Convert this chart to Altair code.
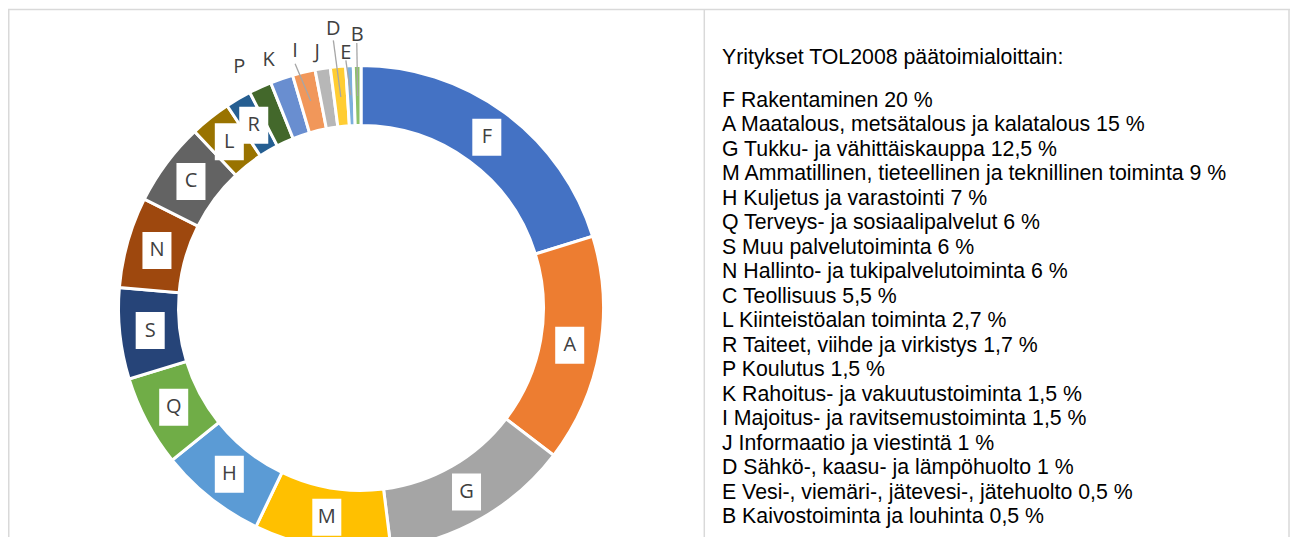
import altair as alt
import pandas as pd

# ---- data ----
codes = ["F", "A", "G", "M", "H", "Q", "S", "N", "C", "L", "R", "P", "K", "I", "J", "D", "E", "B"]
names = [
    "Rakentaminen",
    "Maatalous, metsätalous ja kalatalous",
    "Tukku- ja vähittäiskauppa",
    "Ammatillinen, tieteellinen ja teknillinen toiminta",
    "Kuljetus ja varastointi",
    "Terveys- ja sosiaalipalvelut",
    "Muu palvelutoiminta",
    "Hallinto- ja tukipalvelutoiminta",
    "Teollisuus",
    "Kiinteistöalan toiminta",
    "Taiteet, viihde ja virkistys",
    "Koulutus",
    "Rahoitus- ja vakuutustoiminta",
    "Majoitus- ja ravitsemustoiminta",
    "Informaatio ja viestintä",
    "Sähkö-, kaasu- ja lämpöhuolto",
    "Vesi-, viemäri-, jätevesi-, jätehuolto",
    "Kaivostoiminta ja louhinta",
]
values = [20, 15, 12.5, 9, 7, 6, 6, 6, 5.5, 2.7, 1.7, 1.5, 1.5, 1.5, 1, 1, 0.5, 0.5]
title = "Yritykset TOL2008 päätoimialoittain:"

palette = ["#4472C4", "#ED7D31", "#A5A5A5", "#FFC000", "#5B9BD5", "#70AD47",
           "#264478", "#9E480E", "#636363", "#997300", "#255E91", "#43682B",
           "#698ED0", "#F1975A", "#B7B7B7", "#FFCD33", "#7CAFDD", "#8CC168"]


def fmt(v):
    return f"{v:g}".replace(".", ",")


df = pd.DataFrame({
    "idx": list(range(len(codes))),
    "code": codes,
    "value": values,
    "label": [f"{c} {n} {fmt(v)} %" for c, n, v in zip(codes, names, values)],
})

# ---- layout ----
W, H = 1282, 529
CX, CY = 353, 300
R_OUT, R_IN = 241, 184
R_LAB = 212
LAB_FONT = "Open Sans"
LAB_COLOR = "#404040"
BOX = "M-0.784,-1H0.784V1H-0.784Z"

inner_codes = ["F", "A", "G", "M", "H", "Q", "S", "N", "C", "L", "R"]
# outer labels: angle offset (deg) from slice middle, radius
outer = {"P": (-2.2, 270), "K": (-1.3, 265), "I": (-0.75, 265), "J": (-0.6, 260),
         "D": (-0.25, 280), "E": (-0.67, 255), "B": (0.1, 273)}
# leader lines: start angle offset (deg), start radius, end radius
leaders = {"I": (-1.45, 253, 213), "D": (-0.44, 269, 212), "E": (-0.77, 248, 213), "B": (0.0, 265, 212)}

base = (
    alt.Chart(df)
    .transform_joinaggregate(total="sum(value)")
    .transform_window(cum="sum(value)", sort=[alt.SortField("idx", order="ascending")], frame=[None, 0])
    .transform_calculate(
        a0="(datum.cum - datum.value) / datum.total * 2 * PI",
        a1="datum.cum / datum.total * 2 * PI",
    )
    .transform_calculate(mid="(datum.a0 + datum.a1) / 2")
)

arcs = base.mark_arc(radius=R_OUT + 1.5, radius2=R_IN - 1.5, stroke="white", strokeWidth=3).encode(
    theta=alt.Theta("a0:Q", scale=None),
    theta2=alt.Theta2("a1:Q"),
    color=alt.Color("code:N", scale=alt.Scale(domain=codes, range=palette), legend=None),
    x=alt.value(CX),
    y=alt.value(CY),
)

inner_pos = base.transform_filter(alt.FieldOneOfPredicate(field="code", oneOf=inner_codes)).transform_calculate(
    px=f"{CX} + {R_LAB} * sin(datum.mid)",
    py=f"{CY} - {R_LAB} * cos(datum.mid)",
)

boxes = inner_pos.mark_point(shape=BOX, size=37 * 37, filled=True, color="white", opacity=1).encode(
    x=alt.X("px:Q", scale=None), y=alt.Y("py:Q", scale=None)
)
inner_text = inner_pos.mark_text(font=LAB_FONT, fontSize=20, color=LAB_COLOR, align="center", baseline="middle").encode(
    x=alt.X("px:Q", scale=None), y=alt.Y("py:Q", scale=None), text="code:N"
)

layers = [arcs, boxes, inner_text]

for code, (sa, sr, er) in leaders.items():
    lay = base.transform_filter(alt.datum.code == code).transform_calculate(
        x1=f"{CX} + {sr} * sin(datum.mid + {sa} * PI / 180)",
        y1=f"{CY} - {sr} * cos(datum.mid + {sa} * PI / 180)",
        x2=f"{CX} + {er} * sin(datum.mid)",
        y2=f"{CY} - {er} * cos(datum.mid)",
    ).mark_rule(color="#A6A6A6", strokeWidth=1.3).encode(
        x=alt.X("x1:Q", scale=None), y=alt.Y("y1:Q", scale=None),
        x2=alt.X2("x2:Q"), y2=alt.Y2("y2:Q"),
    )
    layers.append(lay)

for code, (da, r) in outer.items():
    lay = base.transform_filter(alt.datum.code == code).transform_calculate(
        px=f"{CX} + {r} * sin(datum.mid + {da} * PI / 180)",
        py=f"{CY} - {r} * cos(datum.mid + {da} * PI / 180)",
    ).mark_text(font=LAB_FONT, fontSize=20, color=LAB_COLOR, align="center", baseline="middle").encode(
        x=alt.X("px:Q", scale=None), y=alt.Y("py:Q", scale=None), text="code:N"
    )
    layers.append(lay)

# legend text block
LEG_X, LEG_Y0, LEG_DY = 714, 92.6, 24.5
LEG_FS = 21.3
legend_text = alt.Chart(df).transform_calculate(ly=f"{LEG_Y0} + datum.idx * {LEG_DY}").mark_text(
    font="Liberation Sans", fontSize=LEG_FS, color="#000000", align="left", baseline="middle"
).encode(x=alt.value(LEG_X), y=alt.Y("ly:Q", scale=None), text="label:N")

title_text = alt.Chart(pd.DataFrame({"t": [title]})).mark_text(
    font="Liberation Sans", fontSize=LEG_FS, color="#000000", align="left", baseline="middle"
).encode(x=alt.value(LEG_X), y=alt.value(50), text="t:N")

layers += [legend_text, title_text]

# frame
one = pd.DataFrame({"a": [0]})
FRAME = "#D9D9D9"
frame_layers = [
    alt.Chart(one).mark_rule(color=FRAME, strokeWidth=1.5).encode(x=alt.value(0), x2=alt.value(W), y=alt.value(1.5)),
    alt.Chart(one).mark_rule(color=FRAME, strokeWidth=1.5).encode(x=alt.value(0.75), y=alt.value(1.5), y2=alt.value(H)),
    alt.Chart(one).mark_rule(color=FRAME, strokeWidth=1.5).encode(x=alt.value(696.3), y=alt.value(1.5), y2=alt.value(H)),
    alt.Chart(one).mark_rule(color=FRAME, strokeWidth=1.5).encode(x=alt.value(W - 1), y=alt.value(1.5), y2=alt.value(H)),
]

chart = alt.layer(*frame_layers, *layers).properties(
    width=W, height=H, autosize=alt.AutoSizeParams(type="none"), padding=0
).configure_view(stroke=None)

chart.save("out.html", embed_options={"renderer": "svg", "actions": False})
